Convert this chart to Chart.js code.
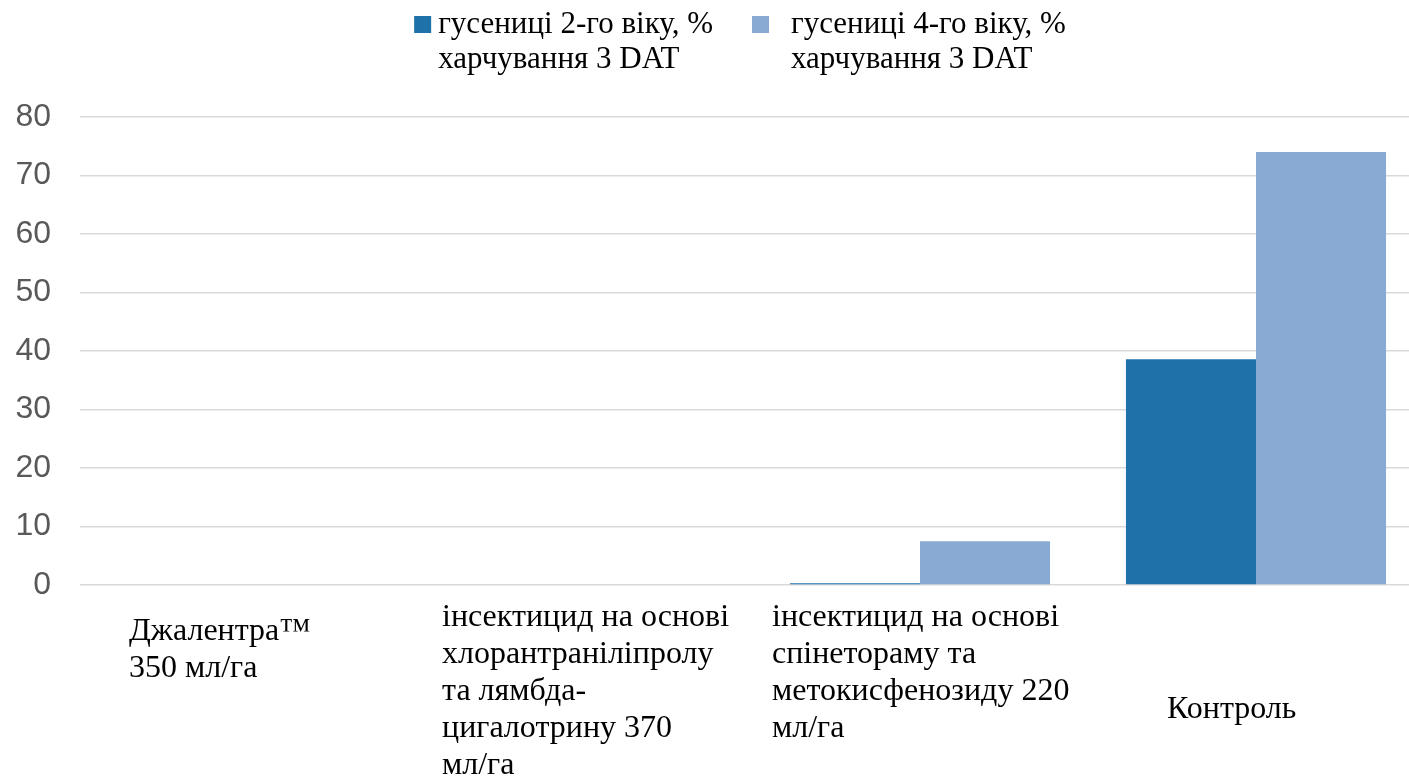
<!DOCTYPE html>
<html>
<head>
<meta charset="utf-8">
<script src="https://cdn.jsdelivr.net/npm/chart.js@4.4.1/dist/chart.umd.min.js"></script>
<style>
  html, body { margin: 0; padding: 0; overflow: hidden; background: #fff; }
</style>
</head>
<body>
<canvas id="myChart" width="1428" height="800"></canvas>
<script>
// categories (wrapped as in the original)
var categories = [
  ['Джалентра™', '350 мл/га'],
  ['інсектицид на основі', 'хлорантраніліпролу', 'та лямбда-', 'цигалотрину 370', 'мл/га'],
  ['інсектицид на основі', 'спінетораму та', 'метокисфенозиду 220', 'мл/га'],
  ['Контроль']
];
var seriesNames = [
  ['гусениці 2-го віку, %', 'харчування 3 DAT'],
  ['гусениці 4-го віку, %', 'харчування 3 DAT']
];
var instar2 = [0, 0, 0.3, 38.6];
var instar4 = [0, 0, 7.5, 74.0];
var yMin = 0, yMax = 80, yStep = 10;

var colors = ['#1f71aa', '#89aad3'];
var serif = '"Liberation Serif", "Times New Roman", serif';
var sans = '"Liberation Sans", Arial, sans-serif';

// where each category text block sits: x from category start, first baseline below axis
var labelPlace = [[49, 55], [26, 41], [20, 41], [79, 133]];
var lineGap = 37;

var categoryLabels = {
  id: 'categoryLabels',
  afterDraw: function (chart) {
    var ctx = chart.ctx;
    var x = chart.scales.x;
    var step = x.getPixelForTick(1) - x.getPixelForTick(0);
    ctx.save();
    ctx.font = '32px ' + serif;
    ctx.fillStyle = '#000';
    ctx.textAlign = 'left';
    ctx.textBaseline = 'alphabetic';
    categories.forEach(function (lines, i) {
      var left = x.getPixelForTick(i) - step / 2 + labelPlace[i][0];
      var base = x.top + labelPlace[i][1];
      lines.forEach(function (t, j) {
        ctx.fillText(t, left, base + j * lineGap);
      });
    });
    ctx.restore();
  }
};

var topLegend = {
  id: 'topLegend',
  afterDraw: function (chart) {
    var ctx = chart.ctx;
    var area = chart.chartArea;
    ctx.save();
    ctx.font = '31px ' + serif;
    ctx.textBaseline = 'alphabetic';
    ctx.textAlign = 'left';
    var box = 17, gaps = [7, 22], between = 39;
    var widths = seriesNames.map(function (lines) {
      return Math.max.apply(null, lines.map(function (t) { return ctx.measureText(t).width; }));
    });
    var total = box * 2 + gaps[0] + gaps[1] + widths[0] + widths[1] + between;
    var cx = (area.left + area.right) / 2 - 12;
    var xPos = cx - total / 2;
    seriesNames.forEach(function (lines, i) {
      ctx.fillStyle = colors[i];
      ctx.fillRect(xPos, 16, box, box);
      var tx = xPos + box + gaps[i];
      ctx.fillStyle = '#000';
      lines.forEach(function (t, j) {
        ctx.fillText(t, tx, 33 + j * 35);
      });
      xPos = tx + widths[i] + between;
    });
    ctx.restore();
  }
};

var ctx = document.getElementById('myChart');

var myChart = new Chart(ctx, {
  type: 'bar',
  data: {
    labels: categories,
    datasets: [{
      label: seriesNames[0].join(' '),
      data: instar2,
      backgroundColor: colors[0],
      borderWidth: 0
    }, {
      label: seriesNames[1].join(' '),
      data: instar4,
      backgroundColor: colors[1],
      borderWidth: 0
    }]
  },
  options: {
    responsive: false,
    animation: false,
    devicePixelRatio: 1,
    categoryPercentage: 0.774,
    barPercentage: 1,
    layout: {
      padding: { top: 117, right: 4, left: 0, bottom: 0 }
    },
    plugins: {
      legend: { display: false },
      tooltip: { enabled: false }
    },
    scales: {
      x: {
        grid: { display: false },
        border: { display: false },
        ticks: { display: false },
        afterFit: function (scale) { scale.height = 215; }
      },
      y: {
        min: yMin,
        max: yMax,
        ticks: {
          stepSize: yStep,
          color: '#595959',
          font: { family: sans, size: 32 },
          padding: 29
        },
        grid: {
          color: '#d9d9d9',
          lineWidth: 1.5,
          drawTicks: false
        },
        border: { display: false },
        afterFit: function (scale) { scale.width = 80; }
      }
    }
  },
  plugins: [categoryLabels, topLegend]
});
</script>
</body>
</html>
